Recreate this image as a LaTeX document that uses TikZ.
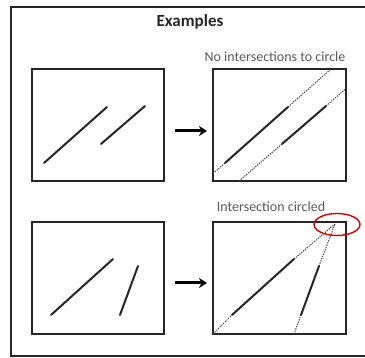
\documentclass[tikz,border=0pt]{standalone}
\usepackage{fontspec}
\setmainfont{Carlito}
\usetikzlibrary{arrows.meta}
\begin{document}
\begin{tikzpicture}[x=1pt,y=-1pt,
  frame/.style={line width=1.6pt,draw=black!85},
  panel/.style={line width=2pt,draw=black!85},
  seg/.style={line width=2pt,draw=black!85,line cap=round},
  ext/.style={line width=1pt,draw=black!75,dash pattern=on 1.3pt off 1.1pt},
  goarrow/.style={line width=3pt,-{Stealth[length=8pt,width=10pt]}},
  caption/.style={text=black!65,font=\fontsize{14}{16}\selectfont,inner sep=0pt},
  ]
\useasboundingbox (0,0) rectangle (365,358);
\begin{scope}
\clip (0,0) rectangle (365,358);
\draw[frame] (380,7) -- (11,7) -- (11,356) -- (380,356);
\end{scope}
\node[font=\bfseries\fontsize{17}{20}\selectfont,inner sep=0pt,text=black!85] (title) at (190,22) {Examples};
% panels
\draw[panel] (32,69) rectangle (164,181);
\draw[panel] (213,69) rectangle (346,181);
\draw[panel] (32,222) rectangle (164,334);
\draw[panel] (213,222) rectangle (346,334);
\node[caption] (cap1) at (275,57) {No intersections to circle};
\node[caption] (cap2) at (271,207) {Intersection circled};
% arrows
\coordinate (a1s) at (175,131);
\coordinate (a1e) at (207,131);
\coordinate (a2s) at (175,283);
\coordinate (a2e) at (207,283);
\draw[goarrow] (a1s) -- (a1e);
\draw[goarrow] (a2s) -- (a2e);
% top-left
\draw[seg] (44,163) -- (107,107);
\draw[seg] (101,144) -- (145,106);
% top-right
\coordinate (p1) at (213,173.5);
\coordinate (p2) at (225,163);
\coordinate (p3) at (288,107);
\coordinate (p4) at (331,69);
\draw[ext] (p1) -- (p2);
\draw[ext] (p3) -- (p4);
\draw[seg] (p2) -- (p3);
\coordinate (q1) at (239,181);
\coordinate (q2) at (282,144);
\coordinate (q3) at (326,106);
\coordinate (q4) at (346,88.5);
\draw[ext] (q1) -- (q2);
\draw[ext] (q3) -- (q4);
\draw[seg] (q2) -- (q3);
% bottom-left
\draw[seg] (51,315) -- (113,259);
\draw[seg] (120,315) -- (138,266);
% bottom-right
\coordinate (c) at (335,224);
\coordinate (r1) at (213,334);
\coordinate (r2) at (232,315);
\coordinate (r3) at (294,259);
\draw[ext] (r1) -- (r2);
\draw[ext] (r3) -- (c);
\draw[seg] (r2) -- (r3);
\coordinate (s1) at (294,334);
\coordinate (s2) at (301,315);
\coordinate (s3) at (319,266);
\draw[ext] (s1) -- (s2);
\draw[ext] (s3) -- (c);
\draw[seg] (s2) -- (s3);
\draw[red!85!black,line width=1.4pt] (337,224.5) ellipse (23 and 11);
\end{tikzpicture}
\end{document}
